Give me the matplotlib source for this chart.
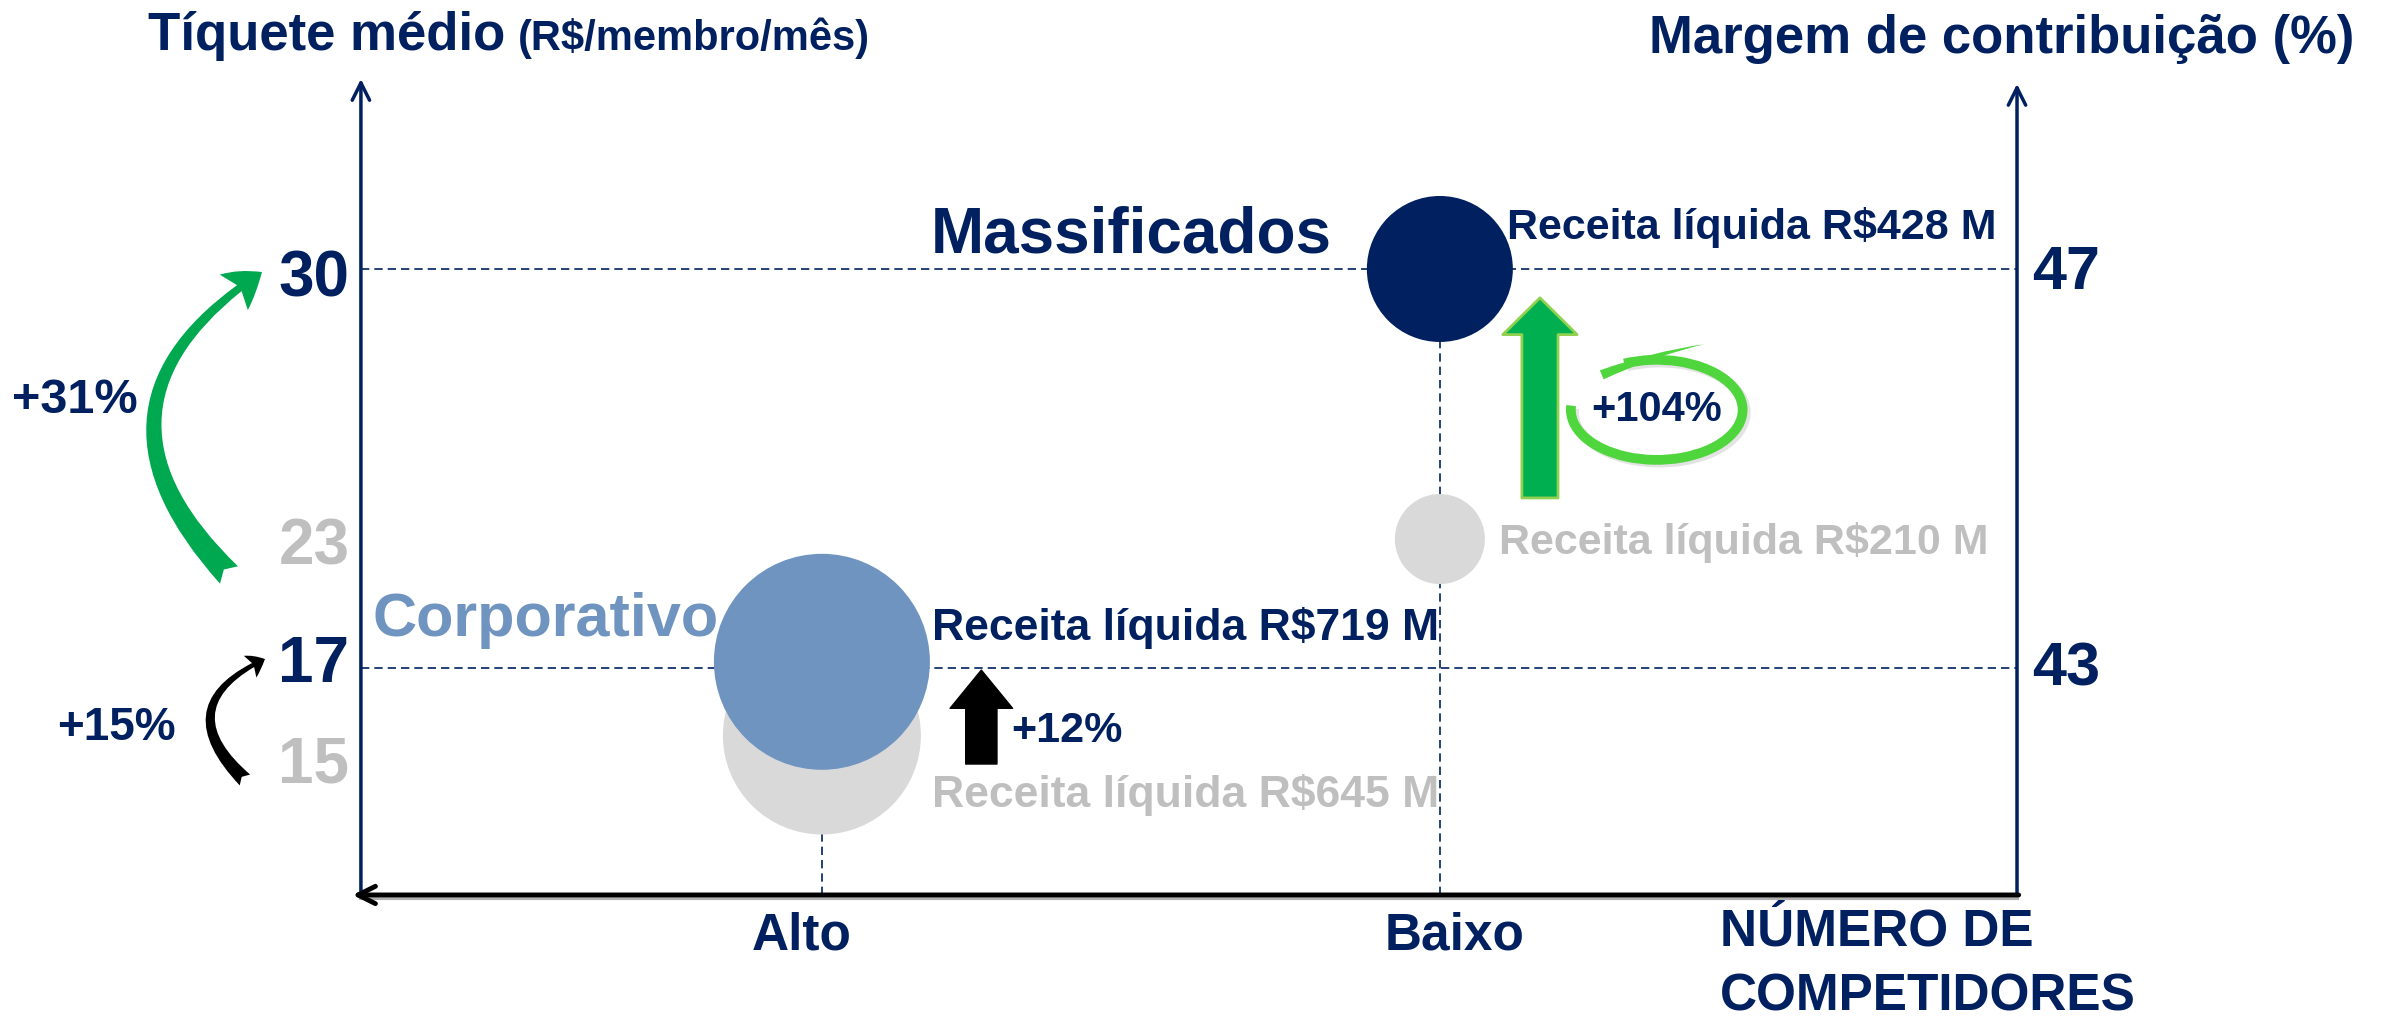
import matplotlib
matplotlib.use('Agg')
import matplotlib.pyplot as plt
from matplotlib.patches import Arc, FancyArrowPatch

plt.rcParams['font.family'] = ['Liberation Sans', 'DejaVu Sans']
plt.rcParams['font.weight'] = 'bold'

NAVY = '#002060'
GRAY_TXT = '#bfbfbf'
GRAY_DOT = '#d9d9d9'
CORP = '#6f94c0'

# data
segments = ['Massificados', 'Corporativo']
competitors = ['Alto', 'Baixo']
seg_x = [2, 1]                  # Massificados -> Baixo, Corporativo -> Alto
ticket_now = [30, 17]
ticket_before = [23, 15]
margin_now = [47, 43]
revenue_now = [428, 719]
revenue_before = [210, 645]
ticket_growth = ['+31%', '+15%']
revenue_growth = ['+104%', '+12%']
# bubble heights as drawn (prior year bubbles are not on the same scale)
bubble_y_now = [30, 17.2]
bubble_y_before = [21.2, 14.8]

# bubble radius in pixels, as drawn
r_now = [73, 108]
r_before = [45, 99]


def size_of(r_px):
    return (2 * r_px * 72 / 100.) ** 2


fig = plt.figure(figsize=(23.87, 10.22), dpi=100)
ax = fig.add_axes([0.1512, 0.1243, 0.6938, 0.7984])
x0, x1 = 0.254, 2.934
y0, y1 = 9.603, 36.19
ax.set_xlim(x0, x1)
ax.set_ylim(y0, y1)
ax.axis('off')

# axes with arrow heads
ax.annotate('', xy=(0, 1), xytext=(0, 0), xycoords='axes fraction',
            arrowprops=dict(arrowstyle='->,head_length=0.5,head_width=0.25', color=NAVY, lw=2.5,
                            shrinkA=0, shrinkB=0, mutation_scale=25))
ax.annotate('', xy=(1, 0.994), xytext=(1, 0), xycoords='axes fraction',
            arrowprops=dict(arrowstyle='->,head_length=0.5,head_width=0.25', color=NAVY, lw=2.5,
                            shrinkA=0, shrinkB=0, mutation_scale=25))
ax.plot([0, 1], [-0.004, -0.004], transform=ax.transAxes, color='#b0b0b0', lw=3, clip_on=False)
ax.annotate('', xy=(-0.005, 0), xytext=(1.001, 0), xycoords='axes fraction',
            arrowprops=dict(arrowstyle='->,head_length=0.5,head_width=0.25', color='black', lw=3.5,
                            shrinkA=0, shrinkB=0, mutation_scale=25))

# category labels under the x axis
ax.text(0.968, 8.27, competitors[0], color=NAVY, fontsize=37, ha='center', va='center', clip_on=False)
ax.text(2.023, 8.27, competitors[1], color=NAVY, fontsize=37, ha='center', va='center', clip_on=False)

# guide lines
ax.hlines(ticket_now, x0, x1, colors=NAVY, linestyles=(0, (5, 3)), lw=1.2, zorder=1)
ax.vlines(seg_x, y0, bubble_y_now, colors=NAVY, linestyles=(0, (5, 3)), lw=1.2, zorder=1)

# bubbles
ax.scatter(seg_x, bubble_y_before, s=[size_of(r) for r in r_before], c=GRAY_DOT,
           edgecolors='none', zorder=3)
ax.scatter(seg_x, bubble_y_now, s=[size_of(r) for r in r_now], c=[NAVY, CORP],
           edgecolors='none', zorder=4)

# segment names and revenues
ax.text(1.825, 31.08, segments[0], color=NAVY, fontsize=46, ha='right', va='center')
ax.text(0.273, 18.53, segments[1], color=CORP, fontsize=44, ha='left', va='center')
ax.text(2.108, 31.34, f'Receita líquida R${revenue_now[0]} M', color=NAVY, fontsize=31, va='center')
ax.text(2.096, 21.10, f'Receita líquida R${revenue_before[0]} M', color=GRAY_TXT, fontsize=31, va='center')
ax.text(1.178, 18.30, f'Receita líquida R${revenue_now[1]} M', color=NAVY, fontsize=32, va='center')
ax.text(1.178, 12.86, f'Receita líquida R${revenue_before[1]} M', color=GRAY_TXT, fontsize=32, va='center')

# straight growth arrows
ax.add_patch(FancyArrowPatch((2.162, 22.54), (2.162, 29.06),
                             arrowstyle='simple,head_length=0.53,head_width=1.07,tail_width=0.52',
                             mutation_scale=50, fc='#00b050', ec='#92d050', lw=2,
                             shrinkA=0, shrinkB=0, zorder=5))
ax.add_patch(FancyArrowPatch((1.258, 13.87), (1.258, 16.93),
                             arrowstyle='simple,head_length=0.55,head_width=0.9,tail_width=0.45',
                             mutation_scale=50, fc='black', ec='black', lw=1,
                             shrinkA=0, shrinkB=0, zorder=5))
ax.text(1.307, 14.95, revenue_growth[1], color=NAVY, fontsize=31, va='center')

# circled +104%
ax.add_patch(Arc((2.356, 25.32), 0.278, 3.26, theta1=135, theta2=452, color='#c8c8c8',
                 lw=7, alpha=0.5, zorder=5))
ax.add_patch(Arc((2.351, 25.41), 0.278, 3.26, theta1=135, theta2=452, color='#4fd63c',
                 lw=7, zorder=6))
ax.add_patch(FancyArrowPatch((2.262, 26.55), (2.428, 27.55), arrowstyle='wedge,tail_width=0.35',
                             mutation_scale=20, fc='#4fd63c', ec='none',
                             connectionstyle='arc3,rad=-0.05', shrinkA=0, shrinkB=0, zorder=6))
ax.text(2.351, 25.41, revenue_growth[0], color=NAVY, fontsize=30, ha='center', va='center', zorder=7)

# left scale labels
ax.text(0.178, 29.67, str(ticket_now[0]), color=NAVY, fontsize=46, ha='center', va='center', clip_on=False)
ax.text(0.178, 20.91, str(ticket_before[0]), color=GRAY_TXT, fontsize=46, ha='center', va='center', clip_on=False)
ax.text(0.178, 17.10, str(ticket_now[1]), color=NAVY, fontsize=46, ha='center', va='center', clip_on=False)
ax.text(0.178, 13.81, str(ticket_before[1]), color=GRAY_TXT, fontsize=46, ha='center', va='center', clip_on=False)

# right scale labels
ax.text(2.958, 29.84, str(margin_now[0]), color=NAVY, fontsize=44, ha='left', va='center', clip_on=False)
ax.text(2.958, 16.93, str(margin_now[1]), color=NAVY, fontsize=44, ha='left', va='center', clip_on=False)

# curved arrows for ticket growth
green = FancyArrowPatch((0.0405, 20.03), (0.0939, 29.9),
                        arrowstyle='fancy,head_length=0.5,head_width=0.65,tail_width=0.36',
                        connectionstyle='arc3,rad=-0.6', mutation_scale=50,
                        fc='#00a84f', ec='none', shrinkA=0, shrinkB=0, clip_on=False)
ax.add_patch(green)
black = FancyArrowPatch((0.0663, 13.35), (0.0987, 17.29),
                        arrowstyle='fancy,head_length=0.5,head_width=0.75,tail_width=0.45',
                        connectionstyle='arc3,rad=-0.73', mutation_scale=24,
                        fc='black', ec='none', shrinkA=0, shrinkB=0, clip_on=False)
ax.add_patch(black)
ax.text(-0.209, 25.73, ticket_growth[0], color=NAVY, fontsize=35, ha='center', va='center', clip_on=False)
ax.text(-0.142, 15.04, ticket_growth[1], color=NAVY, fontsize=33, ha='center', va='center', clip_on=False)

# titles
fig.text(148 / 2387, 1 - 50 / 1022, 'Tíquete médio', color=NAVY, fontsize=38, va='baseline')
fig.text(518 / 2387, 1 - 50 / 1022, '(R$/membro/mês)', color=NAVY, fontsize=30, va='baseline')
fig.text(1649 / 2387, 1 - 53 / 1022, 'Margem de contribuição (%)', color=NAVY, fontsize=38, va='baseline')
fig.text(1720 / 2387, 1 - 932 / 1022, 'NÚMERO DE', color=NAVY, fontsize=37, va='center')
fig.text(1720 / 2387, 1 - 997 / 1022, 'COMPETIDORES', color=NAVY, fontsize=37, va='center')

fig.savefig('out.png', dpi=100, facecolor='white')
